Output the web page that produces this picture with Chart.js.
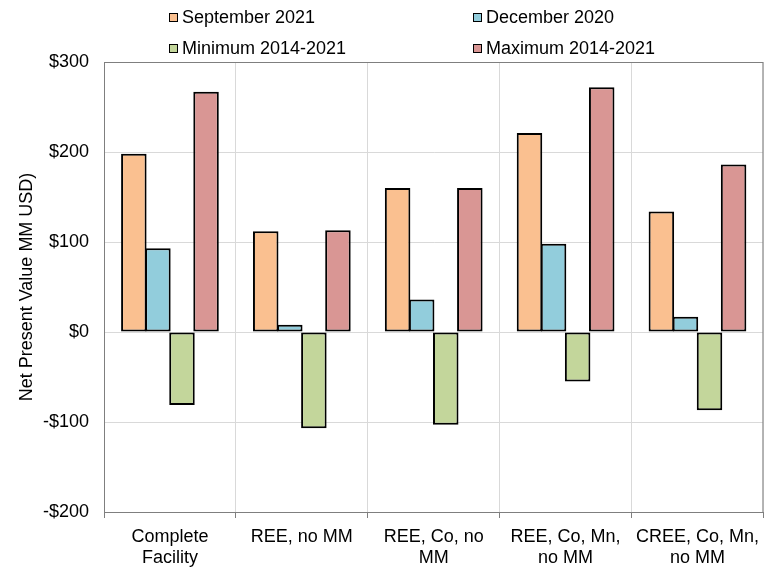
<!DOCTYPE html>
<html>
  <head>
    <meta charset="utf-8">
    <title>Net Present Value</title>
    <script src="https://cdn.jsdelivr.net/npm/chart.js@4.4.1/dist/chart.umd.min.js"></script>
    <style>
      body { margin: 0; background: #fff; font-family: "Liberation Sans", Arial, sans-serif; }
      #wrap { position: relative; width: 768px; height: 572px; }
      #legend { position: absolute; left: 0; top: 0; width: 768px; font-size: 18px; color: #000; }
      .item { position: absolute; white-space: nowrap; line-height: 20px; }
      .box { display: inline-block; width: 7px; height: 7px; border: 1.5px solid #000; margin-right: 4px; vertical-align: 1px; }
    </style>
  </head>
  <body>
    <div id="wrap">
      <canvas id="myChart" width="768" height="572"></canvas>
      <div id="legend"></div>
    </div>

    <script>
      // data
      var categories = [["Complete", "Facility"], "REE, no MM", ["REE, Co, no", "MM"], ["REE, Co, Mn,", "no MM"], ["CREE, Co, Mn,", "no MM"]];
      var seriesNames = ["September 2021", "December 2020", "Minimum 2014-2021", "Maximum 2014-2021"];
      var sep2021 = [198, 112, 160, 221, 134];
      var dec2020 = [93, 8, 36, 98, 17];
      var min2014 = [-81, -107, -103, -55, -87];
      var max2014 = [267, 113, 160, 272, 186];
      var yTicks = [-200, -100, 0, 100, 200, 300];

      var colors = ['#FAC090', '#92CDDC', '#C3D69B', '#D99694'];
      var allValues = [sep2021, dec2020, min2014, max2014];

      var datasets = seriesNames.map(function(name, i){
        return {
          label: name,
          data: allValues[i],
          backgroundColor: colors[i],
          borderColor: '#000',
          borderWidth: 2,
          borderSkipped: false,
          barPercentage: 1.06,
          categoryPercentage: 0.73
        };
      });

      // legend in two columns, like the original
      var legendPos = [[169, 7], [473, 7], [169, 38], [473, 38]];
      var legendDiv = document.getElementById('legend');
      seriesNames.forEach(function(name, i){
        var el = document.createElement('div');
        el.className = 'item';
        el.style.left = legendPos[i][0] + 'px';
        el.style.top = legendPos[i][1] + 'px';
        el.innerHTML = '<span class="box" style="background:' + colors[i] + '"></span>' + name;
        legendDiv.appendChild(el);
      });

      // grey frame round the plot area
      var frame = {
        id: 'frame',
        afterDraw: function(chart){
          var a = chart.chartArea, c = chart.ctx;
          c.save();
          c.strokeStyle = '#7f7f7f';
          c.lineWidth = 1;
          c.strokeRect(a.left + 0.5, a.top + 0.5, a.right - a.left - 1, a.bottom - a.top);
          c.restore();
        }
      };

      Chart.defaults.font.family = '"Liberation Sans", Arial, sans-serif';
      Chart.defaults.color = '#000';

      var ctx = document.getElementById('myChart').getContext('2d');
      var chart = new Chart(ctx, {
        type: 'bar',
        data: { labels: categories, datasets: datasets },
        plugins: [frame],
        options: {
          responsive: false,
          animation: false,
          layout: { padding: { top: 62, right: 0, bottom: 0, left: 16 } },
          plugins: { legend: { display: false }, tooltip: { enabled: false } },
          scales: {
            x: {
              grid: { color: '#d9d9d9', tickColor: '#7f7f7f', tickLength: 6, offset: true },
              border: { color: '#7f7f7f' },
              ticks: { font: { size: 18, lineHeight: 1.15 }, padding: 9, maxRotation: 0, autoSkip: false },
              afterFit: function(s){ s.height = 60; }
            },
            y: {
              min: yTicks[0],
              max: yTicks[yTicks.length - 1],
              afterBuildTicks: function(axis){ axis.ticks = yTicks.map(function(v){ return { value: v }; }); },
              afterFit: function(s){ s.width = 88; },
              grid: { color: '#d9d9d9', drawTicks: false },
              border: { color: '#7f7f7f' },
              ticks: {
                font: { size: 18 },
                padding: 15,
                callback: function(v){ return v < 0 ? '-$' + Math.abs(v) : '$' + v; }
              },
              title: { display: true, text: 'Net Present Value MM USD)', font: { size: 18 }, padding: { top: 0, bottom: 2 } }
            }
          }
        }
      });
    </script>
  </body>
</html>
